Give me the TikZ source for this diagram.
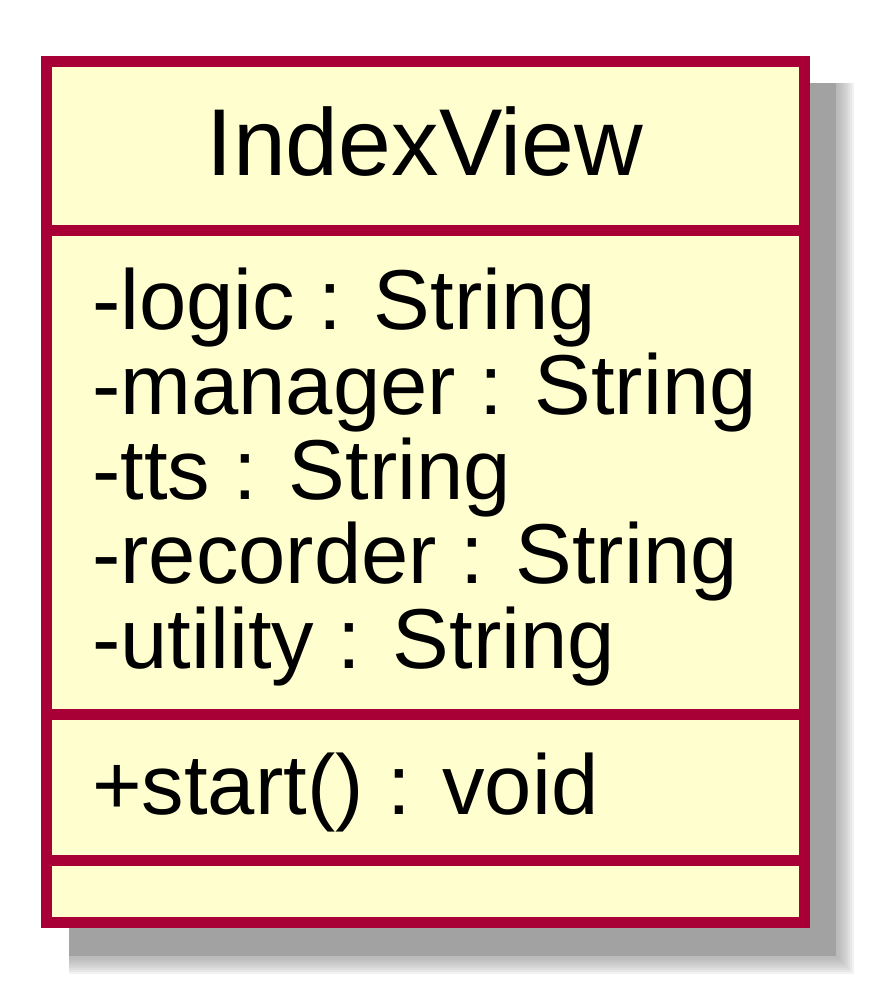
\documentclass[tikz,border=0pt]{standalone}
\usepackage{fontspec}
\setmainfont{Liberation Sans}
\definecolor{umlfill}{HTML}{FEFECE}
\definecolor{umlborder}{HTML}{A80036}
\definecolor{shadowc}{HTML}{A2A2A2}
\begin{document}
\begin{tikzpicture}[x=1pt,y=-1pt,
  classbox/.style={draw=umlborder, fill=umlfill, line width=11pt, inner sep=0pt, outer sep=0pt, anchor=north west},
  titletext/.style={font=\fontsize{95}{95}\selectfont, anchor=base, inner sep=0pt},
  member/.style={font=\fontsize{85}{85}\selectfont, anchor=base west, inner sep=0pt},
  divider/.style={draw=umlborder, line width=11pt}]
\useasboundingbox (0,0) rectangle (884,1007);
\fill[white] (0,0) rectangle (884,1007);
% shadow
\fill[shadowc] (69,83) rectangle (836,956);
\foreach \k in {1,...,9} {
  \fill[shadowc, opacity=0.13] (69,83) rectangle ({836+2*\k},{956+2*\k});
}
% class box
\node[classbox, minimum width=758pt, minimum height=861pt] (box) at (46,61) {};
\coordinate (d1l) at (46,230);  \coordinate (d1r) at (804,230);
\coordinate (d2l) at (46,714);  \coordinate (d2r) at (804,714);
\coordinate (d3l) at (46,860);  \coordinate (d3r) at (804,860);
\draw[divider] (d1l) -- (d1r);
\draw[divider] (d2l) -- (d2r);
\draw[divider] (d3l) -- (d3r);
% texts
\node[titletext] (name) at (425,175) {IndexView};
\node[member] (a1) at (92,329) {-logic : String};
\node[member] (a2) at (92,414) {-manager : String};
\node[member] (a3) at (92,499) {-tts : String};
\node[member] (a4) at (92,583) {-recorder : String};
\node[member] (a5) at (92,668) {-utility : String};
\node[member] (m1) at (92,814) {+start() : void};
\end{tikzpicture}
\end{document}
